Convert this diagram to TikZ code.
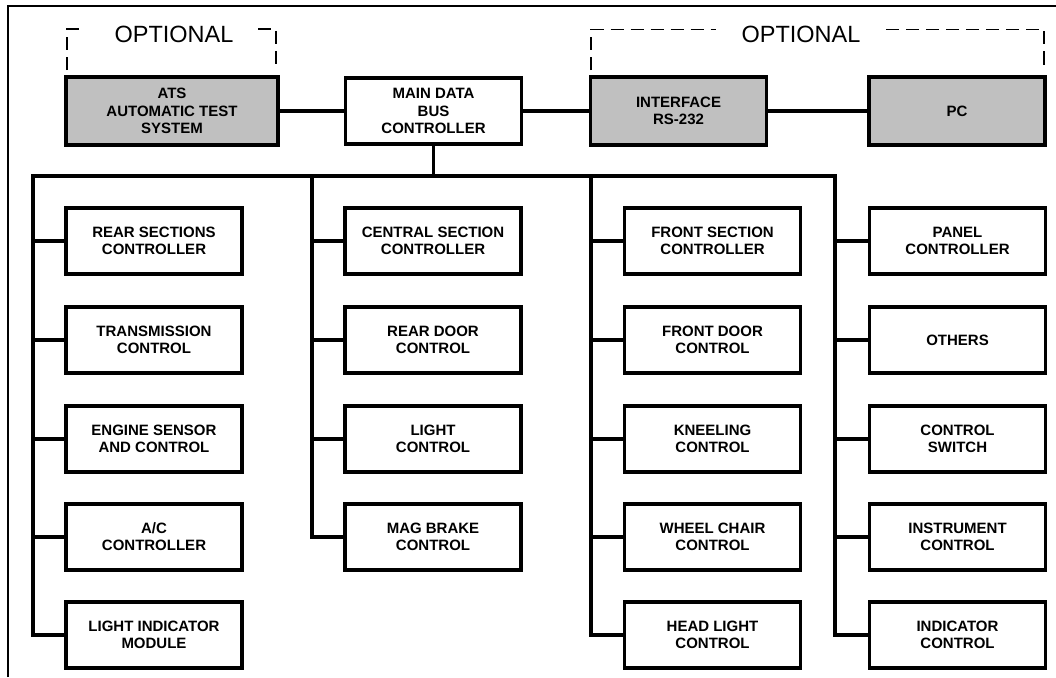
\documentclass[tikz,border=0pt]{standalone}
\usepackage{fontspec}
\setmainfont{Liberation Sans}
\begin{document}
\begin{tikzpicture}[x=1pt,y=-1pt,
  box/.style={draw, line width=3.6pt, minimum width=176pt, minimum height=66pt,
    align=center, inner sep=2pt, font=\bfseries\fontsize{15}{17.2}\selectfont},
  optbox/.style={box, fill=optgray, minimum height=68pt},
  wire/.style={line width=3.6pt},
  optline/.style={line width=1.4pt, dash pattern=on 13pt off 7pt},
  optlabel/.style={font=\fontsize{23.5}{26}\selectfont, inner sep=0pt}]
\definecolor{optgray}{HTML}{C0C0C0}
\useasboundingbox (0,0) rectangle (1056,677);
% outer frame
\draw[line width=2.2pt] (8,677) -- (8,6) -- (1056,6);

% top row
\node[optbox, minimum width=212pt] (ats) at (172,111) {ATS\\AUTOMATIC TEST\\SYSTEM};
\node[box] (main) at (433.5,111) {MAIN DATA\\BUS\\CONTROLLER};
\node[optbox] (iface) at (678.5,111) {INTERFACE\\RS-232};
\node[optbox] (pc) at (957,111) {PC};

% optional groups
\node[optlabel] (opt1) at (174,34) {OPTIONAL};
\node[optlabel] (opt2) at (801,34) {OPTIONAL};
\draw[optline] (67,70) -- (67,29) -- (86,29);
\draw[optline] (258,29) -- (276,29) -- (276,68);
\draw[optline] (591,70) -- (591,29.5) -- (716,29.5);
\draw[optline] (886,29.5) -- (1044,29.5) -- (1044,70);

\draw[wire] (ats) -- (main);
\draw[wire] (main) -- (iface);
\draw[wire] (iface) -- (pc);

% bus
\coordinate (b1) at (33,176);
\coordinate (b2) at (312,176);
\coordinate (b3) at (591,176);
\coordinate (b4) at (835,176);
\draw[wire, line cap=rect] (b1) -- (b4);
\draw[wire] (main.south) -- (main.south |- b1);

% modules
\node[box] (a1) at (154,241) {REAR SECTIONS\\CONTROLLER};
\node[box] (a2) at (154,340) {TRANSMISSION\\CONTROL};
\node[box] (a3) at (154,439) {ENGINE SENSOR\\AND CONTROL};
\node[box] (a4) at (154,537) {A/C\\CONTROLLER};
\node[box] (a5) at (154,635) {LIGHT INDICATOR\\MODULE};

\node[box] (c1) at (433,241) {CENTRAL SECTION\\CONTROLLER};
\node[box] (c2) at (433,340) {REAR DOOR\\CONTROL};
\node[box] (c3) at (433,439) {LIGHT\\CONTROL};
\node[box] (c4) at (433,537) {MAG BRAKE\\CONTROL};

\node[box] (f1) at (712.5,241) {FRONT SECTION\\CONTROLLER};
\node[box] (f2) at (712.5,340) {FRONT DOOR\\CONTROL};
\node[box] (f3) at (712.5,439) {KNEELING\\CONTROL};
\node[box] (f4) at (712.5,537) {WHEEL CHAIR\\CONTROL};
\node[box] (f5) at (712.5,635) {HEAD LIGHT\\CONTROL};

\node[box] (p1) at (957.5,241) {PANEL\\CONTROLLER};
\node[box] (p2) at (957.5,340) {OTHERS};
\node[box] (p3) at (957.5,439) {CONTROL\\SWITCH};
\node[box] (p4) at (957.5,537) {INSTRUMENT\\CONTROL};
\node[box] (p5) at (957.5,635) {INDICATOR\\CONTROL};

% branch lines
\draw[wire, line join=miter] (b1) |- (a5.west);
\draw[wire, line join=miter] (b2) |- (c4.west);
\draw[wire, line join=miter] (b3) |- (f5.west);
\draw[wire, line join=miter] (b4) |- (p5.west);
\foreach \n in {a1,a2,a3,a4} \draw[wire] (\n.west) -- (\n.west -| b1);
\foreach \n in {c1,c2,c3} \draw[wire] (\n.west) -- (\n.west -| b2);
\foreach \n in {f1,f2,f3,f4} \draw[wire] (\n.west) -- (\n.west -| b3);
\foreach \n in {p1,p2,p3,p4} \draw[wire] (\n.west) -- (\n.west -| b4);
\end{tikzpicture}
\end{document}
